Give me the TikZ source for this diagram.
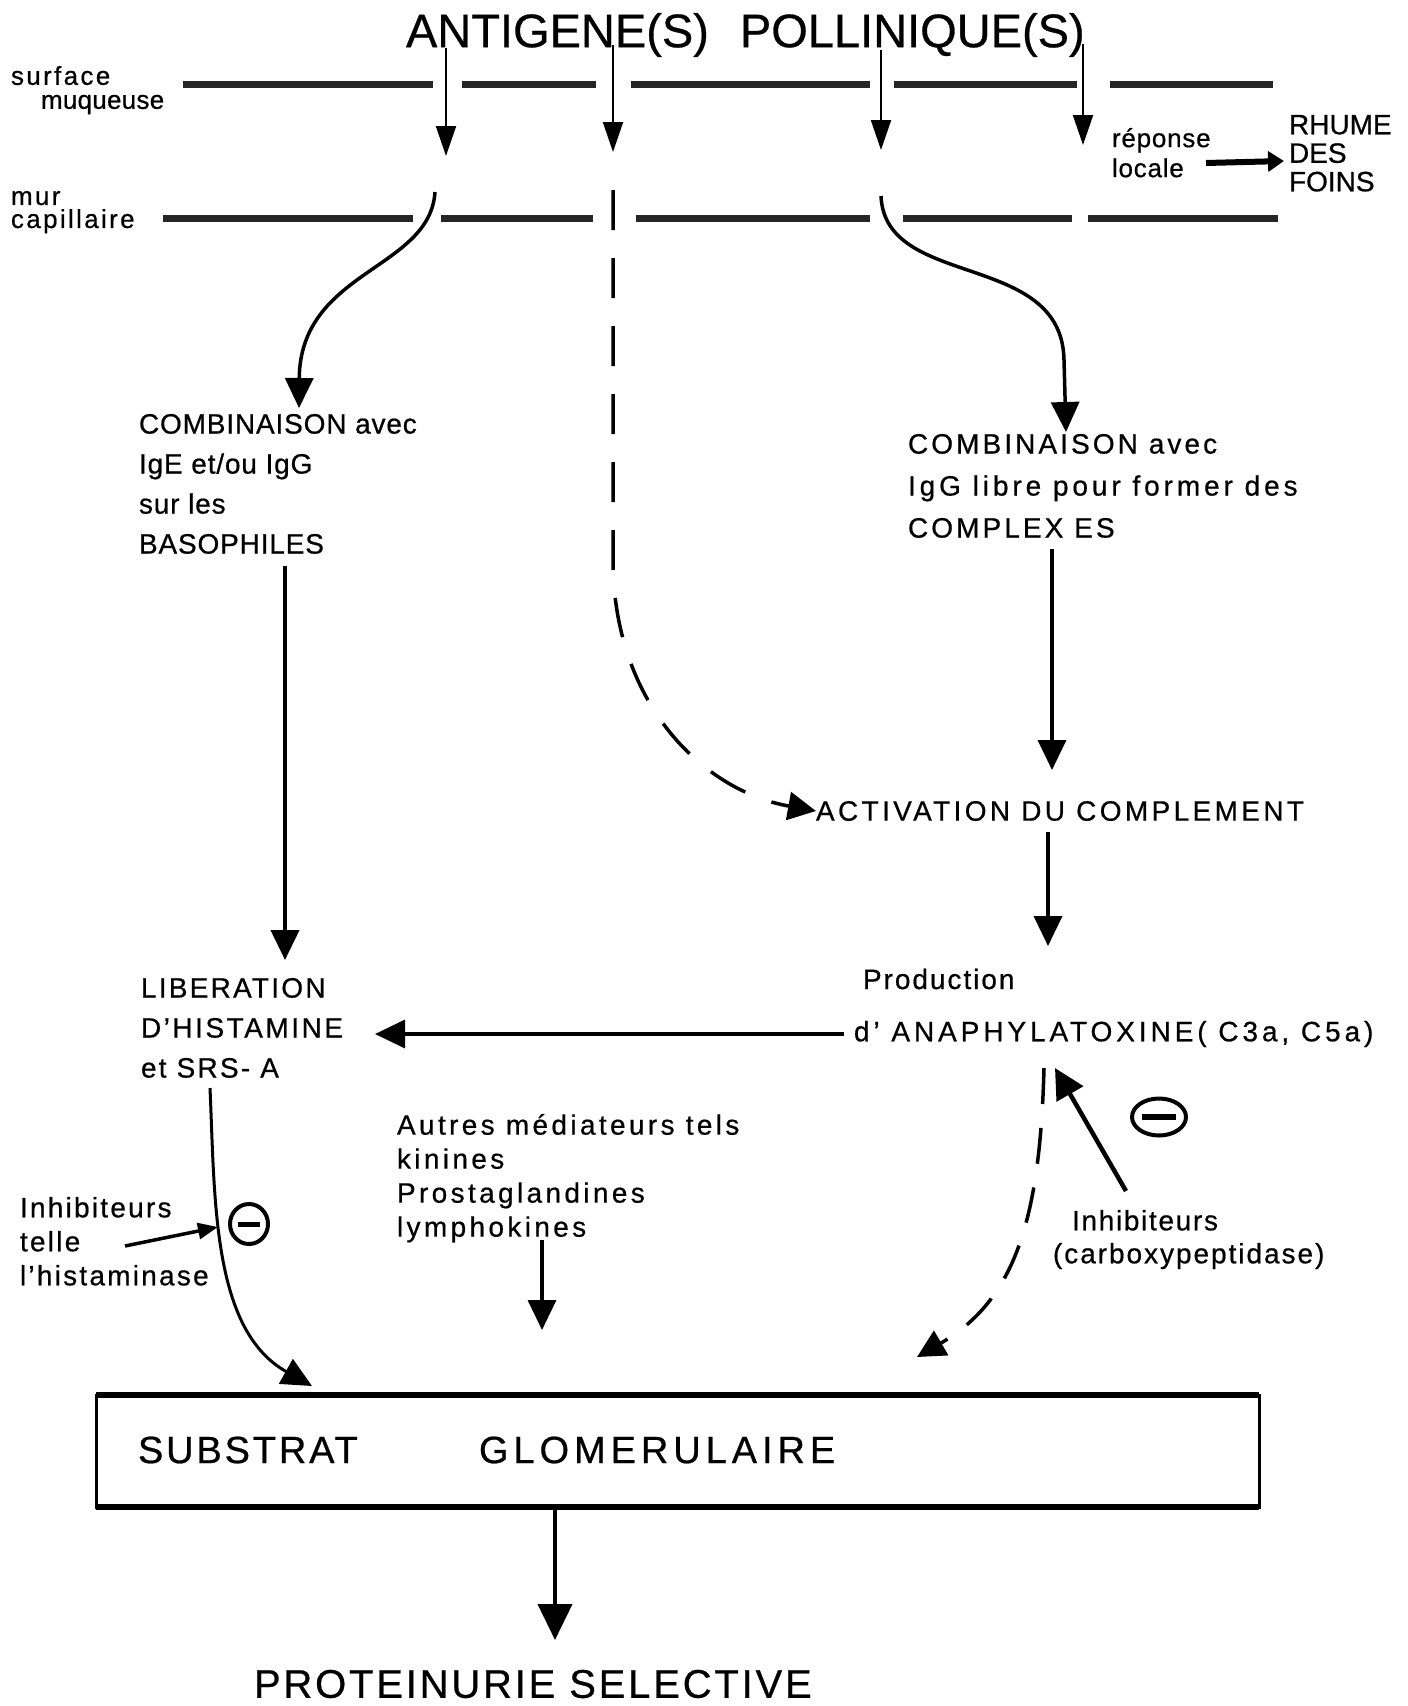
\documentclass[tikz,border=0pt]{standalone}
\usepackage{fontspec}
\setmainfont{Liberation Sans}[FakeBold=0.6]
\usetikzlibrary{arrows.meta,shapes.geometric,calc}
\begin{document}
\begin{tikzpicture}[x=1pt,y=-1pt,
  every node/.style={inner sep=0pt,outer sep=0pt},
  lbl/.style={anchor=north west,align=left},
  f28/.style={font=\fontsize{28}{#1}\selectfont},
  memb/.style={line width=7pt,black!85},
  arr/.style={line width=3.5pt,-{Triangle[width=28pt,length=30pt]}},
  tarr/.style={line width=2pt,-{Triangle[width=20pt,length=30pt]}},
  darr/.style={line width=3.5pt,dash pattern=on 40pt off 28pt,-{Triangle[width=28pt,length=28pt]}},
  minus/.style={ellipse,draw,line width=4pt}
]
\useasboundingbox[fill=white] (0,0) rectangle (1408,1706);

% title
\node[anchor=west,font=\fontsize{47}{50}\selectfont] (title) at (406,35) {ANTIGENE(S)\hspace{18pt} POLLINIQUE(S)};

% membrane labels
\node[lbl,font=\fontsize{26}{24}\selectfont] (surf) at (11,66) {\addfontfeature{LetterSpace=9}surface\\\hspace*{30pt}\addfontfeature{LetterSpace=1}muqueuse};
\node[lbl,font=\fontsize{26}{23}\selectfont] (mur) at (11,191) {\addfontfeature{LetterSpace=9}mur\\\addfontfeature{LetterSpace=9}capillaire};

% surface line
\draw[memb] (183,84) -- (433,84);
\draw[memb] (462,84) -- (596,84);
\draw[memb] (631,84) -- (870,84);
\draw[memb] (894,84) -- (1077,84);
\draw[memb] (1110,84) -- (1273,84);
% capillaire line
\draw[memb] (163,218) -- (413,218);
\draw[memb] (441,218) -- (593,218);
\draw[memb] (636,218) -- (870,218);
\draw[memb] (903,218) -- (1072,218);
\draw[memb] (1088,218) -- (1278,218);

% arrows from antigen
\coordinate (t1) at (446,48);  \coordinate (t1e) at (446,156);
\coordinate (t2) at (613,45);  \coordinate (t2e) at (613,152);
\coordinate (t3) at (881,50);  \coordinate (t3e) at (881,150);
\coordinate (t4) at (1083,44); \coordinate (t4e) at (1083,145);
\draw[tarr] (t1) -- (t1e);
\draw[tarr] (t2) -- (t2e);
\draw[tarr] (t3) -- (t3e);
\draw[tarr] (t4) -- (t4e);

% local response
\node[lbl,font=\fontsize{26}{30}\selectfont] (rep) at (1112,128) {\addfontfeature{LetterSpace=3}réponse\\\addfontfeature{LetterSpace=3}locale};
\node[lbl,font=\fontsize{28}{28.5}\selectfont] (rhume) at (1289,115) {RHUME\\DES\\FOINS};
\draw[line width=6pt,-{Triangle[width=20pt,length=16pt]}] (1206,163) -- (1284,161);

% left pathway
\coordinate (c1) at (435,192);
\coordinate (c1e) at (299,408);
\draw[arr] (c1) .. controls (430,270) and (300,270) .. (c1e);
\node[lbl,f28=40] (combL) at (139,414) {\addfontfeature{LetterSpace=3}COMBINAISON avec\\\addfontfeature{LetterSpace=3}IgE et/ou IgG\\\addfontfeature{LetterSpace=3}sur les\\\addfontfeature{LetterSpace=3}BASOPHILES};
\coordinate (l1) at (285,566);
\coordinate (l1e) at (285,960);
\draw[arr,line width=4pt] (l1) -- (l1e);
\node[lbl,f28=40] (lib) at (141,978) {\addfontfeature{LetterSpace=8}LIBERATION\\\addfontfeature{LetterSpace=9}D'HISTAMINE\\\addfontfeature{LetterSpace=8}et SRS- A};

% middle dashed pathway
\coordinate (m1) at (613,190);
\coordinate (m2) at (613,560);
\node[anchor=west,f28=40] (act) at (816,811) {\addfontfeature{LetterSpace=12}ACTIVATION DU COMPLEMENT};
\draw[darr] (m1) -- (m2) .. controls (613,700) and (700,790) .. (act.west);

% right pathway
\coordinate (r1) at (881,196);
\coordinate (r1e) at (1066,432);
\draw[arr] (r1) .. controls (885,290) and (1062,250) .. (1064,360) -- (r1e);
\node[lbl,f28=42] (combR) at (908,434) {\addfontfeature{LetterSpace=11}COMBINAISON avec\\\addfontfeature{LetterSpace=14}IgG libre pour former des\\\addfontfeature{LetterSpace=11}COMPLEX ES};
\coordinate (r2) at (1052,549);
\coordinate (r2e) at (1052,770);
\draw[arr] (r2) -- (r2e);
\coordinate (r3) at (1048,832);
\coordinate (r3e) at (1048,946);
\draw[arr] (r3) -- (r3e);
\node[anchor=west,f28=40] (prod) at (863,979) {\addfontfeature{LetterSpace=7}Production};
\node[anchor=west,f28=40] (ana) at (854,1034) {\addfontfeature{LetterSpace=14}d' ANAPHYLATOXINE( C3a, C5a)};
\coordinate (h1) at (375,1034);
\draw[arr] ([xshift=-10pt]ana.west) -- (h1);

% other mediators
\node[lbl,f28=34] (autres) at (397,1114) {\addfontfeature{LetterSpace=12}Autres médiateurs tels\\\addfontfeature{LetterSpace=12}kinines\\\addfontfeature{LetterSpace=12}Prostaglandines\\\addfontfeature{LetterSpace=12}lymphokines};
\coordinate (a1) at (542,1240);
\coordinate (a1e) at (542,1330);
\draw[arr] (a1) -- (a1e);

% left inhibitor
\node[lbl,f28=34] (inhL) at (20,1197) {\addfontfeature{LetterSpace=8}Inhibiteurs\\\addfontfeature{LetterSpace=8}telle\\\addfontfeature{LetterSpace=8}l'histaminase};
\coordinate (s1) at (210,1088);
\coordinate (s1e) at (312,1386);
\draw[arr,line width=3pt] (s1) .. controls (215,1200) and (212,1330) .. (s1e);
\coordinate (i1) at (125,1246);
\coordinate (i1e) at (218,1227);
\draw[line width=3.5pt,-{Triangle[width=16pt,length=20pt]}] (i1) -- (i1e);
\node[minus,minimum width=38pt,minimum height=40pt] (mL) at (249,1224) {};
\draw[line width=5pt] ([xshift=8pt]mL.west) -- ([xshift=-8pt]mL.east);

% right inhibitor
\node[lbl,f28=33] (inhR) at (1053,1210) {\hspace*{19pt}\addfontfeature{LetterSpace=6}Inhibiteurs\\\addfontfeature{LetterSpace=7}(carboxypeptidase)};
\coordinate (i2) at (1126,1191);
\coordinate (i2e) at (1055,1068);
\draw[line width=4.5pt,-{Triangle[width=30pt,length=30pt]}] (i2) -- (i2e);
\node[minus,minimum width=54pt,minimum height=37pt] (mR) at (1159,1117) {};
\draw[line width=6pt] ([xshift=10pt]mR.west) -- ([xshift=-10pt]mR.east);
\coordinate (d1) at (1044,1068);
\coordinate (d1e) at (917,1357);
\draw[darr,dash pattern=on 36pt off 24pt] (d1) .. controls (1040,1220) and (1015,1300) .. (d1e);

% glomerular substrate
\node[draw,line width=3pt,minimum width=1163pt,minimum height=112pt] (box) at (677.5,1451) {};
\draw[line width=6pt] (box.north west) -- (box.north east);
\draw[line width=6pt] (box.south west) -- (box.south east);
\node[anchor=west,font=\fontsize{38}{40}\selectfont] (subs) at (138,1450) {\addfontfeature{LetterSpace=7.5}SUBSTRAT};
\node[anchor=west,font=\fontsize{38}{40}\selectfont] (glom) at (479,1450) {\addfontfeature{LetterSpace=13}GLOMERULAIRE};

\node[anchor=west,font=\fontsize{40}{40}\selectfont] (prot) at (254,1684) {\addfontfeature{LetterSpace=7}PROTEINURIE SELECTIVE};
\coordinate (p1) at (555,1507);
\coordinate (p1e) at (555,1640);
\draw[line width=4pt,-{Triangle[width=34pt,length=36pt]}] (p1) -- (p1e);
\end{tikzpicture}
\end{document}
